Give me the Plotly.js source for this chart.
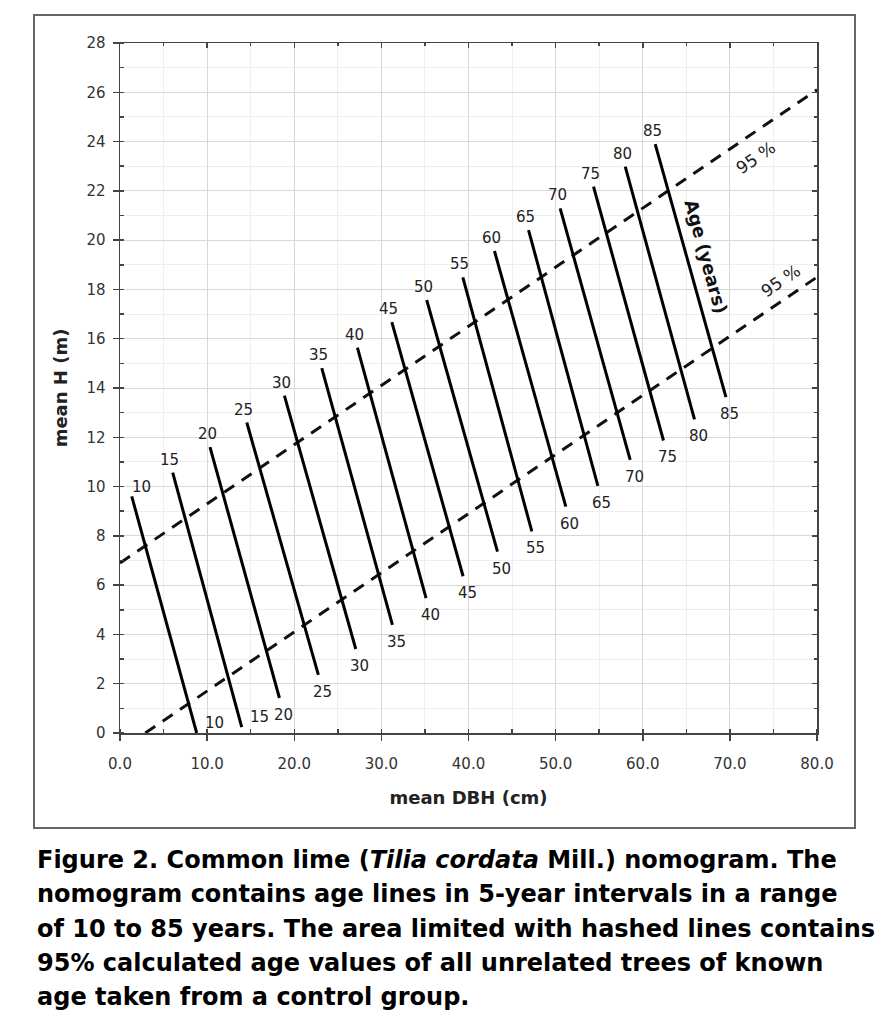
<!DOCTYPE html>
<html>
<head>
<meta charset="utf-8">
<script src="https://cdn.plot.ly/plotly-3.0.1.min.js"></script>
<style>
  html, body { margin: 0; padding: 0; background: #fff; }
  #chart { width: 891px; height: 1024px; }
</style>
</head>
<body>
<div id="chart"></div>
<script>
// ---- Data ----
const ages = [10, 15, 20, 25, 30, 35, 40, 45, 50, 55, 60, 65, 70, 75, 80, 85];
// upper end of each age line (mean DBH cm, mean H m)
const topDBH = [1.35, 6.05, 10.33, 14.55, 18.87, 23.16, 27.25, 31.2, 35.2, 39.35, 42.98, 46.89, 50.52, 54.35, 57.99, 61.43];
const topH   = [9.6, 10.57, 11.6, 12.6, 13.69, 14.81, 15.64, 16.67, 17.57, 18.49, 19.56, 20.41, 21.29, 22.17, 22.98, 23.9];
// lower end of each age line
const bottomDBH = [8.8, 13.97, 18.3, 22.77, 27.06, 31.27, 35.13, 39.38, 43.33, 47.27, 51.17, 54.85, 58.56, 62.38, 65.94, 69.55];
const bottomH   = [0, 0.24, 1.42, 2.36, 3.41, 4.39, 5.47, 6.36, 7.36, 8.18, 9.19, 10.03, 11.08, 11.87, 12.73, 13.63];
// 95 % limits (hashed lines)
const upperLimitDBH = [0, 80];
const upperLimitH   = [6.9, 26.1];
const lowerLimitDBH = [2.9, 80];
const lowerLimitH   = [0, 18.5];
// tick values
const xTicks = [0, 10, 20, 30, 40, 50, 60, 70, 80];
const yTicks = [0, 2, 4, 6, 8, 10, 12, 14, 16, 18, 20, 22, 24, 26, 28];
// caption
const captionLines = [
  "Figure 2. Common lime (<i>Tilia cordata</i> Mill.) nomogram. The",
  "nomogram contains age lines in 5-year intervals in a range",
  "of 10 to 85 years. The area limited with hashed lines contains",
  "95% calculated age values of all unrelated trees of known",
  "age taken from a control group."
];

// ---- Layout geometry ----
const W = 891, H = 1024;
const M = { l: 120, r: 74, t: 43, b: 291 };
const PW = W - M.l - M.r, PH = H - M.t - M.b;
const px2paperX = px => (px - M.l) / PW;
const px2paperY = py => (H - M.b - py) / PH;

const FONT = "DejaVu Sans, Liberation Sans, Arial, sans-serif";

const traces = [];
const dashStyle = { color: "#111", width: 3, dash: "12px,9px" };
traces.push({ x: upperLimitDBH, y: upperLimitH, mode: "lines", line: dashStyle, hoverinfo: "skip", showlegend: false });
traces.push({ x: lowerLimitDBH, y: lowerLimitH, mode: "lines", line: dashStyle, hoverinfo: "skip", showlegend: false });
ages.forEach((a, i) => {
  traces.push({
    x: [topDBH[i], bottomDBH[i]], y: [topH[i], bottomH[i]],
    mode: "lines", line: { color: "#000", width: 3 }, name: a + " years",
    showlegend: false, hoverinfo: "skip"
  });
});

const annotations = [];
ages.forEach((a, i) => {
  const firstLine = i === 0;
  annotations.push({
    x: topDBH[i], y: topH[i], xref: "x", yref: "y", text: String(a), showarrow: false,
    xanchor: firstLine ? "left" : "center", yanchor: "bottom",
    xshift: firstLine ? -2 : -3, yshift: firstLine ? -2 : 2,
    font: { family: FONT, size: 15, color: "#222" }
  });
  const nearAxis = bottomH[i] < 1;
  annotations.push({
    x: bottomDBH[i], y: bottomH[i], xref: "x", yref: "y", text: String(a), showarrow: false,
    xanchor: nearAxis ? "left" : "center", yanchor: nearAxis ? "middle" : "top",
    xshift: nearAxis ? 6 : 4, yshift: nearAxis ? 10 : -6,
    font: { family: FONT, size: 15, color: "#222" }
  });
});
// in-plot labels
annotations.push({ x: 72.9, y: 23.35, xref: "x", yref: "y", text: "95 %", showarrow: false, textangle: -34,
  font: { family: FONT, size: 17, color: "#222" } });
annotations.push({ x: 75.8, y: 18.35, xref: "x", yref: "y", text: "95 %", showarrow: false, textangle: -34,
  font: { family: FONT, size: 17, color: "#222" } });
annotations.push({ x: 67.3, y: 19.35, xref: "x", yref: "y", text: "Age (years)", showarrow: false, textangle: 74.6,
  font: { family: FONT, size: 18, color: "#111", weight: "bold" } });
// caption
captionLines.forEach((t, i) => {
  annotations.push({
    x: px2paperX(35), y: px2paperY(860 + 34.3 * i), xref: "paper", yref: "paper",
    xanchor: "left", yanchor: "middle", align: "left", showarrow: false, text: t,
    font: { family: "DejaVu Sans, sans-serif", size: 24, color: "#000", weight: "bold" }
  });
});

const axisCommon = {
  showline: true, linecolor: "#444", linewidth: 1.5, mirror: true,
  zeroline: false, gridcolor: "#d8d8d8", gridwidth: 1,
  ticks: "outside", ticklen: 6, tickwidth: 1.5, tickcolor: "#444",
  tickfont: { family: FONT, size: 15, color: "#333" }
};

const layout = {
  width: W, height: H, margin: M,
  paper_bgcolor: "#fff", plot_bgcolor: "#fff",
  showlegend: false,
  xaxis: Object.assign({}, axisCommon, {
    range: [0, 80], tickvals: xTicks, tickformat: ".1f",
    minor: { dtick: 5, showgrid: true, gridcolor: "#eeeeee", ticks: "inside", ticklen: 4, tickcolor: "#444" },
    ticklabelstandoff: 10,
    title: { text: "mean DBH (cm)", font: { family: FONT, size: 18, color: "#222", weight: "bold" }, standoff: 20 }
  }),
  yaxis: Object.assign({}, axisCommon, {
    range: [0, 28], tickvals: yTicks,
    minor: { dtick: 1, showgrid: true, gridcolor: "#eeeeee", ticks: "inside", ticklen: 4, tickcolor: "#444" },
    ticklabelstandoff: 4,
    title: { text: "mean H (m)", font: { family: FONT, size: 18, color: "#222", weight: "bold" }, standoff: 14 }
  }),
  xaxis2: {
    overlaying: "x", anchor: "y", side: "top", range: [0, 80], tickvals: xTicks,
    showticklabels: false, showgrid: false, zeroline: false, showline: false,
    ticks: "inside", ticklen: 5, tickcolor: "#444", tickwidth: 1.5,
    minor: { dtick: 5, ticks: "inside", ticklen: 3, tickcolor: "#444", showgrid: false }
  },
  yaxis2: {
    overlaying: "y", anchor: "x", side: "right", range: [0, 28], tickvals: yTicks,
    showticklabels: false, showgrid: false, zeroline: false, showline: false,
    ticks: "inside", ticklen: 5, tickcolor: "#444", tickwidth: 1.5,
    minor: { dtick: 1, ticks: "inside", ticklen: 3, tickcolor: "#444", showgrid: false }
  },
  shapes: [{
    type: "rect", xref: "paper", yref: "paper", layer: "below",
    x0: px2paperX(34), x1: px2paperX(855), y0: px2paperY(828), y1: px2paperY(15),
    line: { color: "#666", width: 2 }, fillcolor: "rgba(0,0,0,0)"
  }],
  annotations: annotations
};

// invisible traces so the mirrored tick axes are drawn
traces.push({ x: [0], y: [0], xaxis: "x2", yaxis: "y", mode: "markers", marker: { opacity: 0 }, hoverinfo: "skip", showlegend: false });
traces.push({ x: [0], y: [0], xaxis: "x", yaxis: "y2", mode: "markers", marker: { opacity: 0 }, hoverinfo: "skip", showlegend: false });

Plotly.newPlot("chart", traces, layout, { staticPlot: true, displayModeBar: false });
</script>
</body>
</html>
